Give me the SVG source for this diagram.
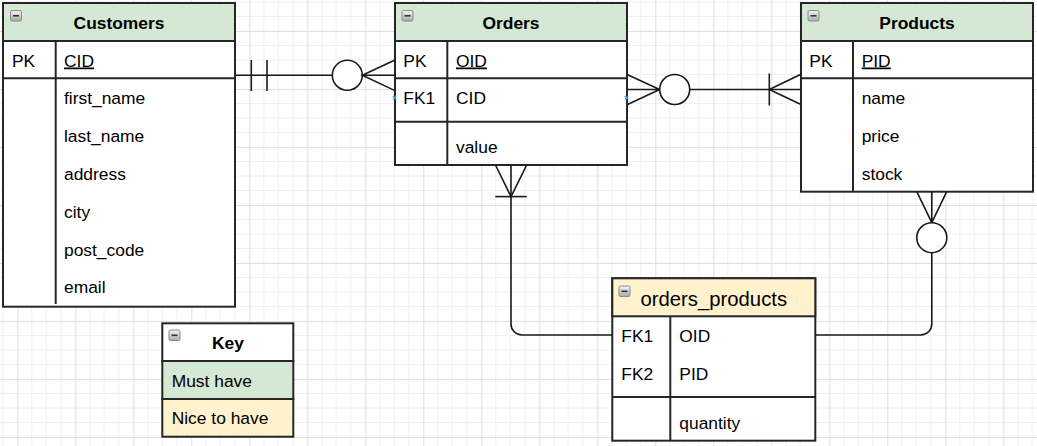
<svg xmlns="http://www.w3.org/2000/svg" width="1037" height="446" viewBox="0 0 1037 446">
<defs>
<pattern id="grid" x="17.3" y="31" width="58" height="58" patternUnits="userSpaceOnUse">
<path d="M14.5 0V58M29 0V58M43.5 0V58M0 14.5H58M0 29H58M0 43.5H58" stroke="#f0f0f0" stroke-width="1" fill="none"/>
<path d="M0.5 0V58M0 0.5H58" stroke="#dfdfdf" stroke-width="1" fill="none"/>
</pattern>
<linearGradient id="icg" x1="0" y1="0" x2="0" y2="1">
<stop offset="0" stop-color="#f4f4f4"/>
<stop offset="1" stop-color="#a9a9a9"/>
</linearGradient>
<g id="icon">
<rect x="0.5" y="0.5" width="11" height="10.5" rx="1.5" fill="url(#icg)" stroke="#8a8a8a" stroke-width="1"/>
<line x1="3" y1="5.8" x2="9" y2="5.8" stroke="#333" stroke-width="1.6"/>
</g>
</defs>
<style>
.tb{fill:#fff;stroke:#262626;stroke-width:2}
.hg{fill:#d5e8d4;stroke:#262626;stroke-width:2}
.hy{fill:#fff2cc;stroke:#262626;stroke-width:2}
.ln{stroke:#262626;stroke-width:2;fill:none}
.cn{stroke:#1a1a1a;stroke-width:1.6;fill:none}
.cc{stroke:#1a1a1a;stroke-width:1.6;fill:#fff}
text{font-family:"Liberation Sans",Arial,sans-serif;font-size:17.4px;fill:#000}
.t{font-weight:bold;text-anchor:middle}
.u{text-decoration:underline}
.big{font-size:20.3px}
.bx{stroke:#3aa6dd;stroke-width:1.2}
</style>
<rect width="1037" height="446" fill="#fff"/>
<rect width="1037" height="446" fill="url(#grid)"/>

<g id="customers">
<rect class="tb" x="3" y="3" width="232" height="303.7"/>
<rect class="hg" x="3" y="3" width="232" height="38"/>
<line class="ln" x1="3" y1="78.3" x2="235" y2="78.3"/>
<line class="ln" x1="55.7" y1="41" x2="55.7" y2="304"/>
<use href="#icon" x="10" y="10"/>
<text class="t" x="119" y="29.3">Customers</text>
<text x="12" y="66.5">PK</text>
<text class="u" x="64" y="66.5">CID</text>
<text x="64" y="104.3">first_name</text>
<text x="64" y="142.1">last_name</text>
<text x="64" y="179.9">address</text>
<text x="64" y="217.7">city</text>
<text x="64" y="255.5">post_code</text>
<text x="64" y="293.3">email</text>
</g>

<g id="orders">
<rect class="tb" x="395" y="3" width="232" height="162"/>
<rect class="hg" x="395" y="3" width="232" height="38"/>
<line class="ln" x1="395" y1="78.3" x2="627" y2="78.3"/>
<line class="ln" x1="395" y1="121.7" x2="627" y2="121.7"/>
<line class="ln" x1="447.3" y1="41" x2="447.3" y2="165"/>
<use href="#icon" x="401.5" y="10"/>
<text class="t" x="511" y="29.3">Orders</text>
<text x="403.3" y="66.5">PK</text>
<text class="u" x="456" y="66.5">OID</text>
<text x="403.3" y="104.3">FK1</text>
<text x="456" y="104.3">CID</text>
<text x="456" y="153.3">value</text>
</g>

<g id="products">
<rect class="tb" x="801" y="3" width="232" height="188.7"/>
<rect class="hg" x="801" y="3" width="232" height="38"/>
<line class="ln" x1="801" y1="78.3" x2="1033" y2="78.3"/>
<line class="ln" x1="853" y1="41" x2="853" y2="191.7"/>
<use href="#icon" x="807.5" y="10"/>
<text class="t" x="917" y="29.3">Products</text>
<text x="809.3" y="66.5">PK</text>
<text class="u" x="861.7" y="66.5">PID</text>
<text x="861.7" y="104.3">name</text>
<text x="861.7" y="142.1">price</text>
<text x="861.7" y="179.9">stock</text>
</g>

<g id="orders_products">
<rect class="tb" x="612.3" y="278.3" width="203" height="162.4"/>
<rect class="hy" x="612.3" y="278.3" width="203" height="38"/>
<line class="ln" x1="612.3" y1="397" x2="815.3" y2="397"/>
<line class="ln" x1="670.3" y1="316.3" x2="670.3" y2="440.7"/>
<use href="#icon" x="618.5" y="285.5"/>
<text class="big" x="713.8" y="305.7" text-anchor="middle">orders_products</text>
<text x="621.3" y="342.3">FK1</text>
<text x="679.3" y="342.3">OID</text>
<text x="621.3" y="380">FK2</text>
<text x="679.3" y="380">PID</text>
<text x="679.3" y="428.5">quantity</text>
</g>

<g id="key">
<rect class="tb" x="162.3" y="323.3" width="131" height="37.7"/>
<rect class="hg" x="162.3" y="361" width="131" height="38"/>
<rect class="hy" x="162.3" y="399" width="131" height="37.7"/>
<use href="#icon" x="168.5" y="329.5"/>
<text class="t" x="228" y="349.3">Key</text>
<text x="171.7" y="386.7">Must have</text>
<text x="171.7" y="424">Nice to have</text>
</g>

<g id="connectors">
<!-- Customers to Orders -->
<line class="cn" x1="235" y1="75.3" x2="332.3" y2="75.3"/>
<line class="cn" x1="251.3" y1="60" x2="251.3" y2="91"/>
<line class="cn" x1="267" y1="60" x2="267" y2="91"/>
<circle class="cc" cx="347.3" cy="75.3" r="15"/>
<path class="cn" d="M395 60L362.3 75.3L395 90.6M362.3 75.3H395"/>
<!-- Orders to Products -->
<path class="cn" d="M627 74.4L659.7 89.5L627 104.8M627 89.5H659.7"/>
<circle class="cc" cx="674.7" cy="89.5" r="15"/>
<line class="cn" x1="689.7" y1="89.5" x2="801" y2="89.5"/>
<line class="cn" x1="769.3" y1="73.5" x2="769.3" y2="105.5"/>
<path class="cn" d="M801 74.2L769.3 89.5L801 104.5"/>
<!-- Orders to orders_products -->
<path class="cn" d="M511 165V324A11 11 0 0 0 522 335H612"/>
<path class="cn" d="M495.5 165L511 196.6L526.7 165"/>
<line class="cn" x1="495.3" y1="196.6" x2="526.7" y2="196.6"/>
<!-- Products to orders_products -->
<path class="cn" d="M916.8 191.7L931.8 222.7L946.7 191.7M931.8 191.7V222.7"/>
<circle class="cc" cx="931.8" cy="237.7" r="15"/>
<path class="cn" d="M931.8 252.7V324A11 11 0 0 1 920.8 335H815"/>
<!-- connection point markers -->
<path class="bx" d="M392.8 96l3.4 3.4M396.2 96l-3.4 3.4M624.8 96l3.4 3.4M628.2 96l-3.4 3.4"/>
</g>
</svg>
